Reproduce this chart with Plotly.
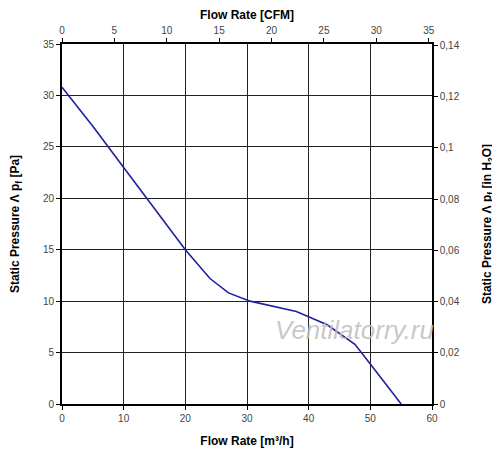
import plotly.graph_objects as go

# fan curve
flow_m3h = [0, 5, 10, 15, 20, 24, 27, 30.5, 38, 43, 47.5, 50.5, 55]
pressure_pa = [30.8, 27.0, 23.0, 19.0, 15.0, 12.2, 10.8, 10.0, 9.0, 7.7, 5.8, 3.5, 0]

M3H_PER_CFM = 1.699
PA_PER_INH2O = 249.09

x_range = [0, 60]
y_range = [0, 35]

flow_cfm = [v / M3H_PER_CFM for v in flow_m3h]
pressure_inh2o = [v / PA_PER_INH2O for v in pressure_pa]

FONT = "Liberation Sans"
tick_font = dict(family=FONT, size=10, color="#444444")
title_font = dict(family=FONT, size=12, color="black")

fig = go.Figure()
fig.add_trace(
    go.Scatter(
        x=flow_m3h,
        y=pressure_pa,
        mode="lines",
        line=dict(color="#1f1fa0", width=1.6),
        showlegend=False,
    )
)
# invisible trace so the CFM / inH2O axes are tied to data
fig.add_trace(
    go.Scatter(
        x=flow_cfm,
        y=pressure_inh2o,
        xaxis="x2",
        yaxis="y2",
        mode="lines",
        line=dict(color="rgba(0,0,0,0)"),
        hoverinfo="skip",
        showlegend=False,
    )
)

axis_common = dict(
    showline=True,
    linecolor="black",
    ticks="outside",
    ticklen=4,
    tickcolor="black",
    tickfont=tick_font,
    zeroline=False,
    automargin=False,
)

# the page body adds an 8px offset, margins compensate for it
fig.update_layout(
    width=492,
    height=452,
    margin=dict(l=54, r=68, t=36, b=56),
    paper_bgcolor="white",
    plot_bgcolor="white",
    separators=", ",
    xaxis=dict(
        range=x_range,
        dtick=10,
        linewidth=2,
        showgrid=True,
        gridcolor="#222222",
        gridwidth=1,
        title=dict(text="<b>Flow Rate [m³/h]</b>", font=title_font, standoff=14),
        **axis_common,
    ),
    yaxis=dict(
        range=y_range,
        dtick=5,
        linewidth=2,
        showgrid=True,
        gridcolor="#222222",
        gridwidth=1,
        title=dict(text="<b>Static Pressure Λ p<sub>f</sub> [Pa]</b>", font=title_font, standoff=22),
        **axis_common,
    ),
    xaxis2=dict(
        range=[x_range[0] / M3H_PER_CFM, x_range[1] / M3H_PER_CFM],
        dtick=5,
        side="top",
        overlaying="x",
        linewidth=1.5,
        showgrid=False,
        title=dict(text="<b>Flow Rate [CFM]</b>", font=title_font, standoff=8),
        **axis_common,
    ),
    yaxis2=dict(
        range=[y_range[0] / PA_PER_INH2O, y_range[1] / PA_PER_INH2O],
        dtick=0.02,
        side="right",
        overlaying="y",
        linewidth=1.5,
        showgrid=False,
        title=dict(text="<b>Static Pressure Λ p<sub>f</sub> [in H<sub>2</sub>O]</b>", font=title_font, standoff=24),
        **axis_common,
    ),
    annotations=[
        dict(
            text="<i>Ventilatorry.ru</i>",
            xref="paper",
            yref="paper",
            x=0.79,
            y=0.205,
            xanchor="center",
            yanchor="middle",
            showarrow=False,
            font=dict(family=FONT, size=26, color="rgba(190,190,190,0.85)"),
        )
    ],
)

fig.write_html("out.html")
